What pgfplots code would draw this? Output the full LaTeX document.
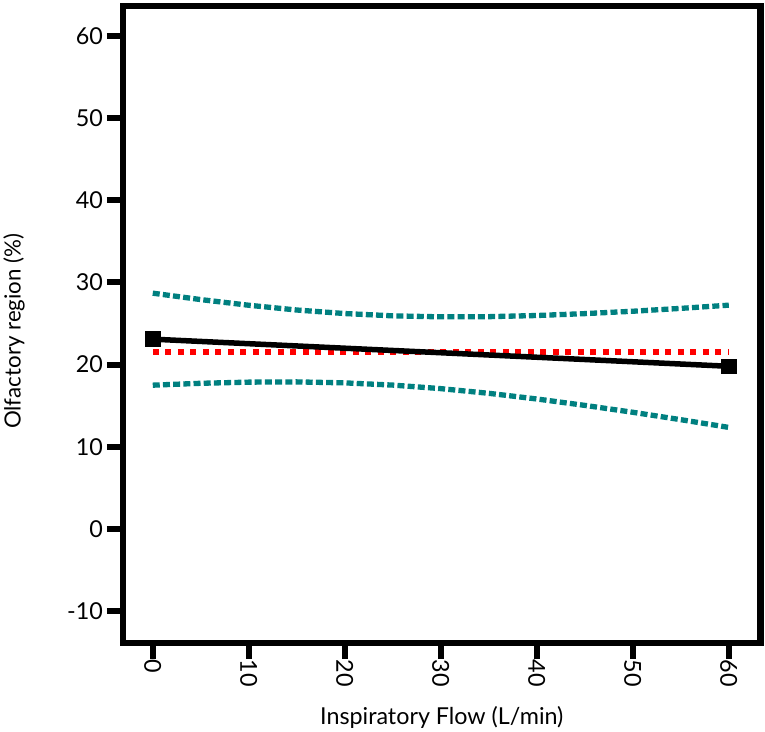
\documentclass[border=0pt]{standalone}
\usepackage{pgfplots}
\pgfplotsset{compat=1.18}
\usepackage{fontspec}
\setmainfont{Lato}
\definecolor{bandteal}{RGB}{0,128,128}
\definecolor{meanred}{RGB}{255,0,0}
\newcommand{\chartfont}{\fontsize{23.3}{27}\selectfont}

\begin{document}
\begin{tikzpicture}
\begin{axis}[
    scale only axis,
    width=637.5pt,
    height=636.7pt,
    xmin=-3.1, xmax=63.3,
    ymin=-13.85, ymax=63.66,
    xtick={0,10,...,60},
    ytick={-10,0,...,60},
    axis line style={line width=6.3pt},
    tick style={line width=6pt, black},
    tick align=outside,
    major tick length=16pt,
    xtick pos=bottom,
    ytick pos=left,
    /pgf/number format/assume math mode=true,
    tick label style={font=\chartfont},
    label style={font=\chartfont},
    xticklabel style={rotate=-90, anchor=west, inner sep=1pt},
    yticklabel style={inner sep=4pt},
    xlabel={Inspiratory Flow (L/min)},
    ylabel={Olfactory region (\%)},
    xlabel style={at={(axis description cs:0.5,0)}, anchor=center, yshift=-75pt},
    ylabel style={at={(axis description cs:0,0.5)}, anchor=center,
        font=\fontsize{22.3}{26}\selectfont, xshift=-7pt, yshift=109pt},
]
% upper confidence band
\addplot[bandteal, line width=5.3pt, dash pattern=on 7pt off 3.2pt] coordinates {
    (0,28.70) (5,27.92) (10,27.23) (15,26.65) (20,26.22) (25,25.94)
    (30,25.82) (35,25.84) (40,25.98) (45,26.21) (50,26.50) (55,26.85) (60,27.24)
};
% lower confidence band
\addplot[bandteal, line width=5.3pt, dash pattern=on 7pt off 3.2pt] coordinates {
    (0,17.50) (5,17.73) (10,17.87) (15,17.90) (20,17.78) (25,17.51)
    (30,17.08) (35,16.51) (40,15.82) (45,15.04) (50,14.20) (55,13.30) (60,12.36)
};
% mean
\addplot[meanred, line width=6pt, dash pattern=on 6pt off 6.5pt] coordinates {
    (0,21.5) (60,21.5)
};
% regression line
\addplot[black, line width=5.5pt, mark=square*, mark size=5pt, mark options={solid}] coordinates {
    (0,23.1) (60,19.8)
};
\end{axis}
\pgfresetboundingbox
\path[use as bounding box] (-123pt,-88.3pt) rectangle (642pt,642.7pt);
\end{tikzpicture}
\end{document}
